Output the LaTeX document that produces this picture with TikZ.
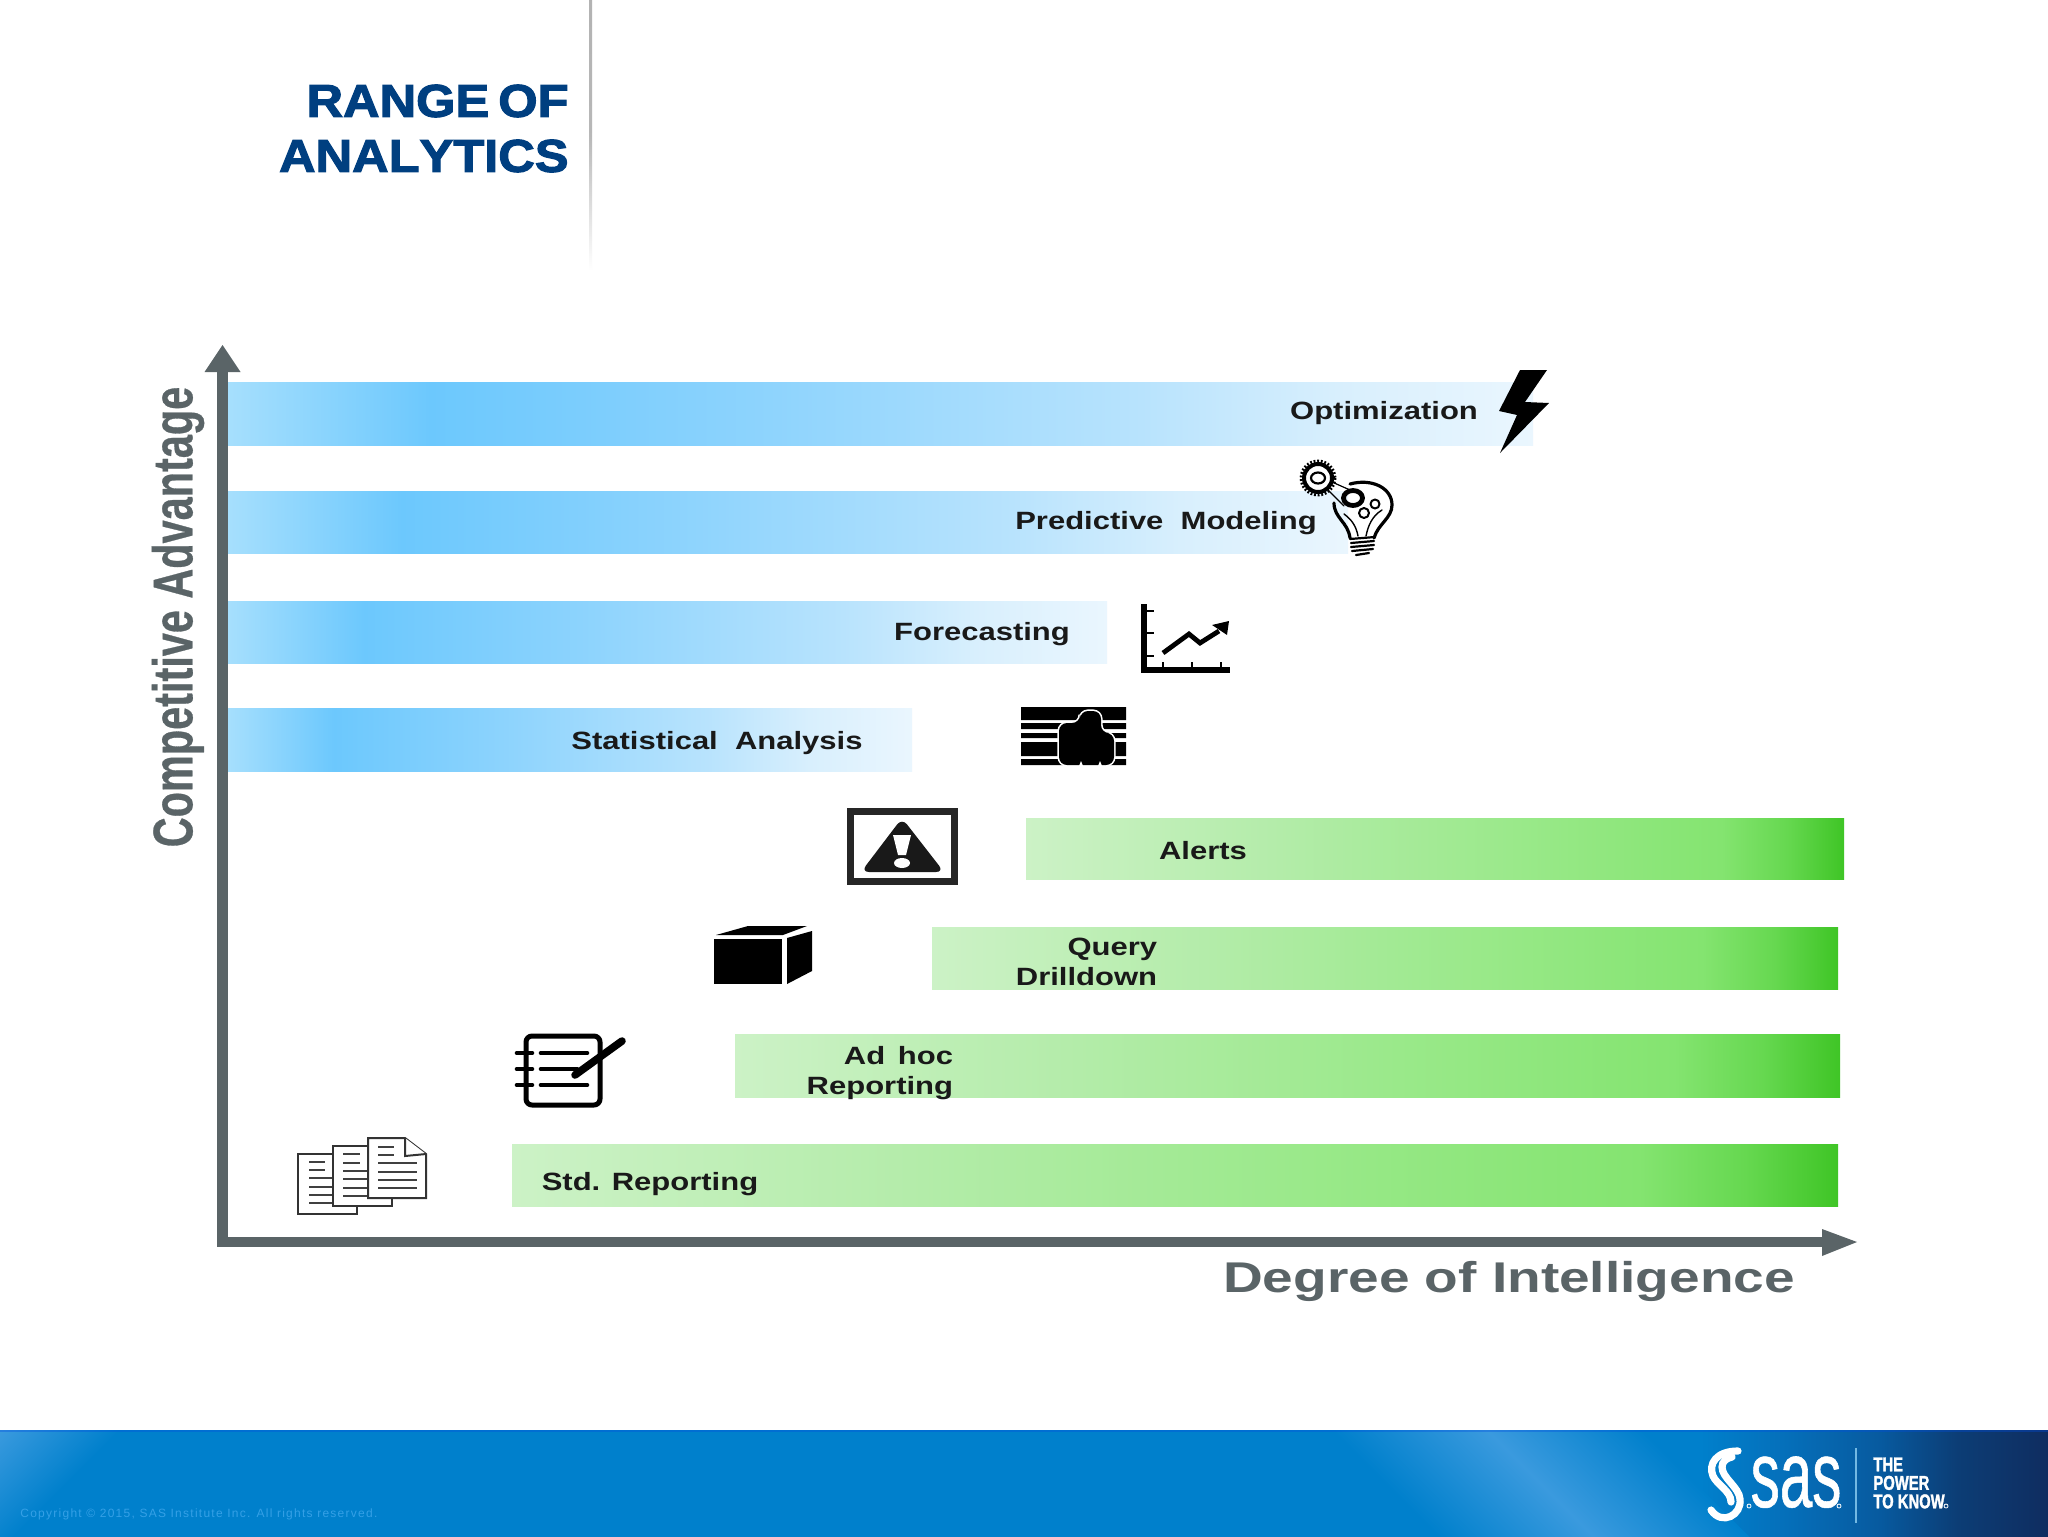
\documentclass[tikz,border=0pt]{standalone}
\usepackage{fontspec}
\setmainfont{Liberation Sans}
\newfontfamily\barfont{Liberation Sans}[FakeStretch=1.24]
\newfontfamily\titlefont{Liberation Sans}[FakeStretch=1.1,FakeBold=2.4,Kerning=Off]
\newfontfamily\axisfontx{Liberation Sans}[FakeStretch=1.28]
\newfontfamily\axisfonty{Liberation Sans}[FakeStretch=0.74,FakeBold=0.5]
\newfontfamily\sasfont{Liberation Sans}[FakeStretch=0.62,FakeBold=0.6]
\newfontfamily\tagfont{Liberation Sans}[FakeStretch=0.74,FakeBold=1.5]
\newfontfamily\copyfont{Liberation Sans}[LetterSpace=10.5]
\definecolor{titleblue}{HTML}{003F80}
\definecolor{axisgrey}{HTML}{5A6467}
\definecolor{footbase}{HTML}{0080CC}
\definecolor{foothi}{HTML}{3A9ADE}
\definecolor{copytext}{HTML}{35A0E6}
\definecolor{fa}{HTML}{0570BB}
\definecolor{fb}{HTML}{075A9F}
\definecolor{fc}{HTML}{0C3D75}
\definecolor{fd}{HTML}{0F2D60}
\definecolor{ba}{HTML}{A6DFFD}
\definecolor{bb}{HTML}{6CC8FD}
\definecolor{bc}{HTML}{8CD3FD}
\definecolor{bd}{HTML}{B8E3FD}
\definecolor{be}{HTML}{D8EFFD}
\definecolor{bf}{HTML}{EAF6FE}
\definecolor{ga}{HTML}{CCF2C6}
\definecolor{gb}{HTML}{B4ECAA}
\definecolor{gc}{HTML}{9AE98A}
\definecolor{gd}{HTML}{84E470}
\definecolor{ge}{HTML}{66D850}
\definecolor{gf}{HTML}{3FC526}
\pgfdeclarehorizontalshading{bluebar}{100bp}{color(0bp)=(ba); color(25bp)=(ba); color(32.75bp)=(bb); color(45bp)=(bc); color(60bp)=(bd); color(67.5bp)=(be); color(75bp)=(bf); color(100bp)=(bf)}
\pgfdeclarehorizontalshading{greenbar}{100bp}{color(0bp)=(ga); color(25bp)=(ga); color(40bp)=(gb); color(55bp)=(gc); color(67.5bp)=(gd); color(71.5bp)=(ge); color(75bp)=(gf); color(100bp)=(gf)}
\pgfdeclarehorizontalshading{footshade}{100bp}{color(0bp)=(footbase); color(66.5bp)=(footbase); color(68.5bp)=(fa); color(70.9bp)=(fb); color(72.8bp)=(fc); color(75bp)=(fd); color(100bp)=(fd)}
\pgfdeclarehorizontalshading{bandshade}{100bp}{color(0bp)=(footbase); color(25bp)=(footbase); color(50bp)=(foothi); color(75bp)=(footbase); color(100bp)=(footbase)}
\tikzset{
  barblue/.style={shading=bluebar},
  bargreen/.style={shading=greenbar},
  barlabel/.style={inner sep=0pt,font=\barfont\bfseries\fontsize{12.5}{15}\selectfont,text=black!90},
  icon/.style={black,line cap=round,line join=round},
  page/.style={draw=black!80,fill=white,line width=1pt,line join=miter},
  pageline/.style={draw=black!75,line width=1pt},
}
\begin{document}
\begin{tikzpicture}[x=0.5pt,y=-0.5pt]
\useasboundingbox (0,0) rectangle (2048,1536);
\fill[white] (0,0) rectangle (2048,1536);
% header
\shade[top color=black!30,bottom color=white,middle color=black!28] (589,0) rectangle (592,270);
\node[inner sep=0pt,anchor=east,align=right,text=titleblue,font=\titlefont\bfseries\fontsize{23}{27.5}\selectfont] (title) at (569,128.5) {RANGE\hspace{-2.5pt} OF\\ANALYTICS};
% bars
\shade[barblue] (228,382) rectangle (1533,445);
\shade[barblue] (228,491) rectangle (1348,553);
\shade[barblue] (228,601) rectangle (1107,663);
\shade[barblue] (228,708) rectangle (912,771);
\shade[bargreen] (1026,818) rectangle (1844,879);
\shade[bargreen] (932,927) rectangle (1838,989);
\shade[bargreen] (735,1034) rectangle (1840,1097);
\shade[bargreen] (512,1144) rectangle (1838,1206);
% axes
\fill[axisgrey] (217,372) rectangle (228,1247);
\fill[axisgrey] (217,1237) rectangle (1823,1247);
\fill[axisgrey] (222.5,345) -- (240.5,372) -- (204.5,372) -- cycle;
\fill[axisgrey] (1857,1242) -- (1822,1229) -- (1822,1256) -- cycle;
\node[inner sep=0pt,rotate=90,text=axisgrey,font=\axisfonty\bfseries\fontsize{28}{30}\selectfont] (ylab) at (178,617) {Competitive Advantage};
\node[inner sep=0pt,text=axisgrey,font=\axisfontx\bfseries\fontsize{21.5}{25}\selectfont] (xlab) at (1509,1281) {Degree of Intelligence};
% bar labels
\node[barlabel] (l1) at (1384,413) {Optimization};
\node[barlabel] (l2) at (1166,523) {Predictive~ Modeling};
\node[barlabel] (l3) at (982,634) {Forecasting};
\node[barlabel] (l4) at (717,743) {Statistical~ Analysis};
\node[barlabel] (l5) at (1203,851) {Alerts};
\node[barlabel,anchor=east,align=right] (l6) at (1157.5,961.5) {Query\\Drilldown};
\node[barlabel,anchor=east,align=right] (l7) at (953.5,1073) {Ad\, hoc\\Reporting};
\node[barlabel] (l8) at (650,1184) {Std. Reporting};
% lightning
\fill[black] (1520,370) -- (1547,370) -- (1525,402) -- (1549,403) -- (1500,453) -- (1517,415) -- (1499,411) -- cycle;
% bulb
\begin{scope}[icon]
\draw[line width=1.4pt,dash pattern=on 0.9pt off 0.9pt,line cap=butt] (1318,478) circle (17);
\draw[line width=2pt] (1318,478) circle (14);
\draw[line width=1.1pt] (1318,478) ellipse (7 and 5.5);
\draw[line width=.6pt] (1332,482) -- (1350,490) (1328,490) -- (1344,506);
\draw[line width=2.4pt] (1353,498) ellipse (9.5 and 7.5);
\draw[line width=1pt] (1375,504) circle (4.5) (1364,513) circle (5);
\draw[line width=1.6pt] (1350,484) .. controls (1372,478) and (1392,488) .. (1392,505) .. controls (1392,518) and (1378,524) .. (1374,538);
\draw[line width=1.6pt] (1334,503) .. controls (1334,518) and (1348,522) .. (1350,538);
\draw[line width=.7pt] (1344,514) .. controls (1352,520) and (1356,526) .. (1358,536) (1382,510) .. controls (1372,516) and (1368,526) .. (1366,536);
\draw[line width=1.1pt] (1350,539) -- (1375,537) (1351,543) -- (1374,541) (1351,547) -- (1374,545) (1352,551) -- (1373,549) (1356,555) -- (1369,553);
\end{scope}
% chart
\begin{scope}[icon,line cap=butt]
\fill (1141,604) rectangle (1147,673);
\fill (1141,667) rectangle (1230,673);
\draw[line width=1.2pt] (1147,611) -- (1154,611) (1147,633) -- (1154,633) (1147,656) -- (1154,656);
\draw[line width=1.2pt] (1163,662) -- (1163,667) (1192,662) -- (1192,667) (1221,662) -- (1221,667);
\draw[line width=2.4pt,line join=miter] (1163,653) -- (1189,634) -- (1200,643) -- (1219,631);
\fill (1229,621) -- (1212,625) -- (1227,635) -- cycle;
\end{scope}
% statistics
\fill (1021,707) rectangle (1126,720) (1021,723) rectangle (1126,729) (1021,733) rectangle (1126,738) (1021,742) rectangle (1126,756) (1021,759) rectangle (1126,765);
\path[draw=white,line width=1.6pt,rounded corners=4pt] (1059,765) -- (1059,723) -- (1080,723) -- (1080,711) -- (1101,711) -- (1101,733) -- (1114,733) -- (1114,765) -- cycle;
\fill[black,rounded corners=4pt] (1059,765) -- (1059,723) -- (1080,723) -- (1080,711) -- (1101,711) -- (1101,733) -- (1114,733) -- (1114,765) -- cycle;
\fill[white] (1079,766) -- (1083,766) -- (1081,761) -- cycle (1098,766) -- (1102,766) -- (1100,761) -- cycle;
% alert
\draw[draw=black!85,fill=white,line width=3.5pt] (850.5,811.5) rectangle (954.5,881.5);
\fill[black!90,rounded corners=4pt] (902,818) -- (944,872) -- (861,872) -- cycle;
\fill[white] (893,835) -- (911,835) -- (906,855) -- (898,855) -- cycle;
\fill[white] (902,863) ellipse (8 and 5);
% box
\fill[black] (714,939) rectangle (782,984);
\fill[black] (787,938) -- (812,931) -- (812,971) -- (787,984) -- cycle;
\fill[black] (716,935) -- (748,926) -- (807,926) -- (783,935) -- cycle;
% notebook
\begin{scope}[icon]
\draw[line width=2.5pt,rounded corners=3pt] (526,1036) rectangle (600,1105);
\draw[line width=2.3pt] (541,1053) -- (587,1053) (541,1069) -- (577,1069) (541,1085) -- (587,1085);
\draw[line width=2.3pt] (517,1053) -- (532,1053) (517,1069) -- (532,1069) (517,1085) -- (532,1085);
\draw[line width=3.8pt] (622,1041) -- (575,1075);
\end{scope}
% documents
\draw[page] (298,1154) rectangle (357,1214);
\draw[pageline] (309,1162) -- (325,1162) (309,1170) -- (325,1170) (309,1178) -- (333,1178) (309,1187) -- (333,1187) (309,1195) -- (333,1195) (309,1203) -- (333,1203);
\draw[page] (333,1146) rectangle (392,1206);
\draw[pageline] (343,1154) -- (360,1154) (343,1163) -- (360,1163) (343,1171) -- (368,1171) (343,1179) -- (368,1179) (343,1188) -- (368,1188) (343,1196) -- (368,1196);
\draw[page] (368,1138) -- (405,1138) -- (426,1154) -- (426,1198) -- (368,1198) -- cycle;
\draw[page] (405,1138) -- (405,1156) -- (426,1154);
\draw[pageline] (378,1147) -- (394,1147) (378,1155) -- (394,1155) (378,1163) -- (417,1163) (378,1172) -- (417,1172) (378,1180) -- (417,1180) (378,1188) -- (417,1188);
% footer
\begin{scope}
\clip (0,1430) rectangle (2048,1536);
\shade[shading=footshade] (0,1430) rectangle (2048,1536);
\shade[transform canvas={rotate around={45:(1540,1483)}},shading=bandshade] (1430,1183) rectangle (1650,1783);
\shade[transform canvas={rotate around={-45:(0,1430)}},left color=foothi,right color=footbase] (0,1230) rectangle (85,1630);
\fill[blue!40!footbase,opacity=.35] (0,1430) rectangle (2048,1432);
\end{scope}
\node[inner sep=0pt,anchor=west,text=copytext,font=\copyfont\fontsize{6}{7}\selectfont] (copy) at (20,1514) {Copyright © 2015, SAS Institute Inc. All rights reserved.};
% logo
\begin{scope}[white,line cap=round]
\draw[line width=3.6pt] (1738,1451) .. controls (1716,1451) and (1708,1464) .. (1713,1476) .. controls (1717,1485) and (1731,1491) .. (1731,1502);
\draw[line width=3.6pt] (1711,1510) .. controls (1722,1526) and (1742,1515) .. (1740,1499) .. controls (1739,1487) and (1722,1478) .. (1722,1467) .. controls (1722,1462) and (1726,1458) .. (1732,1457);
\draw[line width=.4pt] (1749,1506) circle (2) (1839,1506) circle (2) (1946,1506) circle (2);
\end{scope}
\node[inner sep=0pt,anchor=base,text=white,font=\sasfont\fontsize{47}{50}\selectfont] (sas) at (1796,1507) {sas};
\draw[draw=white!45!footbase,line width=.8pt] (1856,1448) -- (1856,1523);
\node[inner sep=0pt,anchor=west,align=left,text=white,font=\tagfont\bfseries\fontsize{10}{9.25}\selectfont] (tag) at (1873,1483) {THE\\POWER\\TO KNOW};
\end{tikzpicture}
\end{document}
